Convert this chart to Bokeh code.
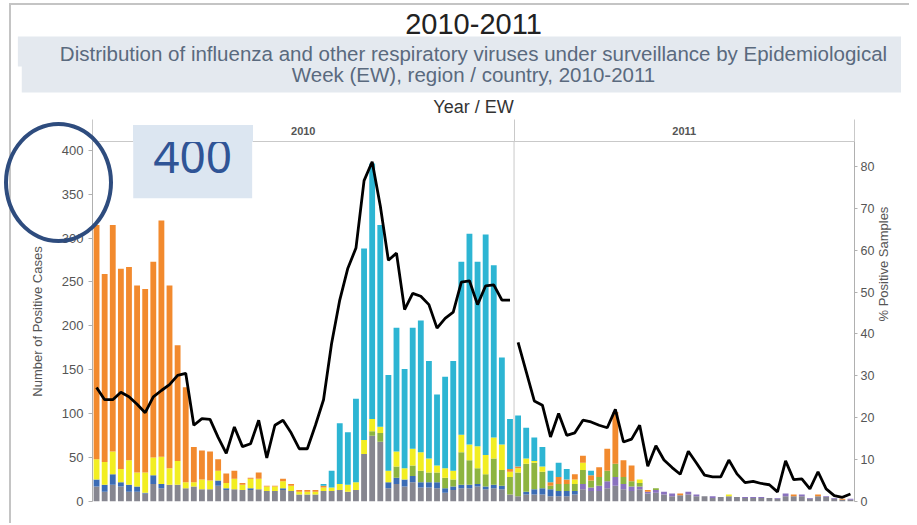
import math
from bokeh.plotting import figure
from bokeh.models import (Range1d, LinearAxis, FixedTicker, Span, Title,
                          Label, ColumnDataSource)
from bokeh.embed import file_html
from bokeh.resources import INLINE

# ---------------- data ----------------
years = ["2010", "2011"]
weeks_per_year = [52, 42]

left_ticks = [0, 50, 100, 150, 200, 250, 300, 350, 400]
right_ticks = [0, 10, 20, 30, 40, 50, 60, 70, 80]

series_names = ["gray", "blue", "purple", "green", "yellow", "orange", "cyan"]
series_colors = ["#868690", "#3b6cb5", "#8a72bf", "#8db440", "#f2ee22", "#f28a2e", "#2db5d3"]

gray = [17, 11, 19, 17, 11, 11, 9, 20, 15, 19, 19, 15,
        17, 14, 14, 18, 13, 14, 13, 13, 14, 12, 12, 13, 12, 8, 8, 8, 12, 12,
        13, 11, 13, 54, 75, 68, 15, 20, 17, 22, 16, 16, 15, 10, 13, 15, 15, 17, 14, 15, 14, 8,
        6, 8, 8, 8, 6, 6, 6, 8, 14, 12, 12, 15, 18, 14, 12, 14,
        9, 10, 8, 6, 7, 8, 6, 6, 4, 5, 6, 5, 4, 4, 4, 4, 3, 6, 6, 6, 3, 6, 5, 3, 2, 2]
blue = [8, 8, 12, 5, 8, 6, 1, 10, 5, 0, 0, 0,
        0, 0, 0, 6, 2, 0, 0, 2, 0, 0, 0, 2, 0, 0, 0, 0, 0, 0,
        0, 0, 0, 0, 0, 0, 7, 7, 8, 7, 6, 6, 7, 5, 4, 4, 4, 3, 3, 4, 4, 0,
        0, 3, 6, 7, 8, 6, 6, 4, 0, 0, 0, 0, 0, 0, 0, 0,
        0, 0, 0, 0, 0, 0, 0, 0, 0, 0, 0, 0, 0, 0, 0, 0, 0, 0, 0, 0, 0, 0, 0, 0, 0, 0]
purple = [0, 0, 0, 0, 0, 0, 0, 0, 0, 0, 0, 0,
          0, 0, 0, 0, 0, 0, 0, 0, 0, 0, 0, 0, 0, 0, 0, 0, 0, 0,
          0, 0, 0, 0, 0, 0, 0, 0, 0, 0, 0, 0, 0, 0, 0, 0, 0, 0, 0, 0, 0, 0,
          0, 0, 0, 0, 0, 0, 0, 0, 6, 4, 6, 8, 10, 6, 5, 3,
          2, 3, 3, 3, 0, 3, 2, 0, 2, 0, 0, 0, 1, 1, 1, 0, 1, 3, 0, 2, 1, 0, 1, 1, 0, 1]
green = [0, 0, 0, 0, 0, 0, 0, 0, 0, 0, 0, 0,
         0, 0, 0, 0, 0, 0, 0, 0, 0, 0, 0, 0, 0, 0, 0, 0, 0, 0,
         0, 0, 0, 0, 5, 10, 0, 13, 0, 12, 13, 11, 11, 12, 8, 37, 28, 18, 14, 30, 18, 20,
         27, 32, 30, 19, 4, 8, 8, 8, 16, 8, 10, 12, 15, 8, 6, 4,
         0, 2, 0, 0, 0, 0, 0, 0, 0, 0, 0, 0, 0, 0, 0, 0, 0, 0, 0, 0, 0, 0, 0, 0, 0, 0]
yellow = [23, 26, 26, 15, 28, 16, 23, 20, 31, 19, 27, 7,
          5, 11, 10, 11, 6, 12, 6, 11, 12, 5, 5, 8, 6, 3, 3, 3, 4, 4,
          7, 8, 9, 16, 14, 7, 13, 17, 13, 19, 21, 16, 8, 11, 10, 20, 18, 25, 22, 24, 29, 6,
          5, 6, 2, 6, 0, 0, 0, 5, 8, 0, 0, 0, 0, 0, 0, 4,
          0, 0, 0, 0, 0, 0, 0, 0, 0, 0, 2, 0, 0, 0, 0, 0, 0, 0, 0, 0, 0, 0, 0, 0, 0, 0]
orange = [267, 214, 258, 228, 220, 213, 209, 223, 269, 208, 132, 108,
          40, 33, 33, 13, 11, 9, 2, 1, 7, 1, 1, 3, 2, 2, 2, 2, 2, 0,
          0, 0, 0, 0, 0, 0, 0, 0, 0, 0, 0, 0, 0, 0, 0, 0, 0, 0, 0, 0, 0, 3,
          2, 0, 0, 0, 4, 8, 5, 6, 8, 6, 11, 25, 59, 19, 18, 0,
          2, 0, 0, 0, 2, 0, 0, 0, 0, 0, 0, 0, 0, 0, 0, 0, 0, 0, 2, 0, 0, 2, 0, 0, 1, 0]
cyan = [0, 0, 0, 0, 0, 0, 0, 0, 0, 0, 0, 0,
        0, 0, 0, 0, 0, 0, 0, 0, 0, 0, 0, 0, 0, 0, 0, 0, 2, 19,
        69, 60, 95, 218, 291, 230, 109, 141, 113, 138, 150, 111, 81, 104, 125, 197, 240, 210, 251, 196, 99, 57,
        58, 35, 27, 22, 13, 16, 12, 0, 0, 5, 0, 0, 0, 0, 0, 0,
        0, 0, 0, 0, 0, 0, 0, 0, 0, 0, 0, 0, 0, 0, 0, 0, 0, 0, 0, 0, 0, 0, 0, 0, 0, 0]

pct_2010 = [27.2, 24.3, 24.3, 26.1, 25.0, 23.2, 21.2, 25.0, 26.5, 27.9, 30.1, 30.6,
            18.2, 19.8, 19.6, 15.3, 11.5, 17.8, 13.1, 13.8, 19.4, 10.4, 18.2, 19.4,
            16.4, 12.6, 12.6, 18.2, 24.3, 37.8, 48.1, 55.7, 60.5, 76.6, 81.1, 70.6,
            57.6, 59.3, 45.8, 49.7, 49.0, 47.0, 41.4, 43.7, 45.2, 52.4, 52.7, 47.0,
            51.5, 51.7, 48.1, 48.1]
pct_2011 = [38.0, 31.0, 24.0, 23.0, 15.4, 21.0, 15.8, 16.4, 19.4, 19.0, 18.2, 17.6,
            22.0, 14.2, 14.9, 18.2, 8.4, 13.3, 9.9, 8.1, 6.5, 12.0, 9.2, 6.3,
            5.9, 5.9, 9.9, 6.6, 4.5, 4.8, 4.3, 4.0, 2.3, 9.7, 5.2, 5.4,
            3.0, 7.1, 3.0, 1.4, 1.0, 1.8]

title_text = "2010-2011"
subtitle_lines = ["Distribution of influenza and other respiratory viruses under surveillance by Epidemiological",
                  "Week (EW), region / country, 2010-2011"]
header_text = "Year / EW"
highlight_text = "400"

# ---------------- build ----------------
n_weeks = sum(weeks_per_year)
x = [i + 0.5 for i in range(n_weeks)]
src = ColumnDataSource(dict(x=x, gray=gray, blue=blue, purple=purple, green=green,
                            yellow=yellow, orange=orange, cyan=cyan))

FONT = "Liberation Sans"
p = figure(width=901, height=509, output_backend="svg", toolbar_location=None,
           x_range=Range1d(0, n_weeks), y_range=Range1d(0, 410),
           x_axis_location=None, min_border_left=92, min_border_right=41,
           min_border_top=141, min_border_bottom=8)
p.outline_line_color = None
p.xgrid.visible = False
p.ygrid.visible = False

p.vbar_stack(series_names, x="x", width=0.72, color=series_colors,
             line_color=None, source=src)

p.extra_y_ranges = {"pct": Range1d(0, 85.95)}
x10 = [i + 0.5 for i in range(weeks_per_year[0])]
x11 = [weeks_per_year[0] + i + 0.5 for i in range(weeks_per_year[1])]
p.line(x10, pct_2010, y_range_name="pct", line_color="black", line_width=2.8)
p.line(x11, pct_2011, y_range_name="pct", line_color="black", line_width=2.8)

p.add_layout(Span(location=weeks_per_year[0], dimension="height",
                  line_color="#c9c9c9", line_width=1, level="underlay"))


def style_axis(ax, size="13px"):
    ax.axis_line_color = "#b0b0b0"
    ax.major_tick_line_color = "#b0b0b0"
    ax.major_tick_out = 4
    ax.major_tick_in = 0
    ax.minor_tick_line_color = None
    ax.major_label_text_font = FONT
    ax.major_label_text_font_size = size
    ax.major_label_text_color = "#555555"
    ax.axis_label_text_font = FONT
    ax.axis_label_text_font_size = "13px"
    ax.axis_label_text_font_style = "normal"
    ax.axis_label_text_color = "#555555"


ly = p.yaxis[0]
ly.ticker = FixedTicker(ticks=left_ticks)
ly.axis_label = "Number of Positive Cases"
style_axis(ly)
ly.major_label_standoff = 5
ly.axis_label_standoff = 14

ry = LinearAxis(y_range_name="pct", ticker=FixedTicker(ticks=right_ticks),
                axis_label="% Positive Samples")
style_axis(ry, "12.5px")
ry.major_tick_out = 3
ry.major_label_standoff = 3
ry.axis_label_standoff = 6
if "axis_label_orientation" in LinearAxis.properties():
    try:
        ry.axis_label_orientation = math.pi / 2
    except Exception:
        pass
p.add_layout(ry, "right")

# year header axis
centers = [weeks_per_year[0] / 2, weeks_per_year[0] + weeks_per_year[1] / 2]
bounds = [0, weeks_per_year[0], n_weeks]
yr = LinearAxis(ticker=FixedTicker(ticks=centers, minor_ticks=bounds),
                major_label_overrides={c: y for c, y in zip(centers, years)})
yr.axis_line_color = "#c9c9c9"
yr.major_tick_line_color = None
yr.minor_tick_line_color = "#c9c9c9"
yr.minor_tick_in = 0
yr.major_label_text_font = FONT
yr.major_label_text_font_size = "11px"
yr.major_label_text_font_style = "bold"
yr.major_label_text_color = "#555555"
try:
    yr.minor_tick_out = 22
    yr.major_label_standoff = -15
except Exception:
    yr.minor_tick_out = 0
    yr.major_label_standoff = 6
p.add_layout(yr, "above")


def set_padding(model, left, right, top, bottom):
    if "padding" not in type(model).properties():
        return
    for val in (dict(left=left, right=right, top=top, bottom=bottom),
                (left, right, top, bottom), max(top, 0)):
        try:
            model.padding = val
            return
        except Exception:
            continue


def set_standoff(model, value):
    try:
        model.standoff = value
    except Exception:
        model.standoff = 0


p.add_layout(Title(text=header_text, align="center", text_font=FONT,
                   text_font_size="18px", text_font_style="normal",
                   text_color="#333333", standoff=13), "above")

# subtitle band: two centred lines on a shared background
sub_pads = [42, 270]           # horizontal padding so both boxes span the band
sub_vpads = [(5, 2), (0, 7)]   # (top, bottom)
sub_standoffs = [-4, -8]
for line, pad, vp, so in reversed(list(zip(subtitle_lines, sub_pads, sub_vpads, sub_standoffs))):
    t = Title(text=line, align="center", text_font=FONT, text_font_size="20.5px",
              text_font_style="normal", text_color="#5a6a7e",
              background_fill_color="#e4e9ef")
    set_standoff(t, so)
    set_padding(t, pad, pad, vp[0], vp[1])
    p.add_layout(t, "above")

p.add_layout(Title(text=title_text, align="center", text_font=FONT,
                   text_font_size="29px", text_font_style="normal",
                   text_color="#222222", standoff=5), "above")

# ---------------- overlay highlight (presentation marks) ----------------
box = Label(x=12.36, y=383, text=highlight_text, text_align="center",
            text_baseline="middle", text_font="Noto Sans", text_font_size="46px",
            text_color="#2f5496", background_fill_color="#dce6f1")
set_padding(box, 20, 20, 8, 25)
p.add_layout(box)

# ring round the 350-400 ticks, widget frame lines, and the part of the
# highlight box that lies above the plot frame
p.stylesheets = [
    ":host { position: relative; }"
    ":host::after { content: ''; position: absolute; left: 4px; top: 122px;"
    " width: 109px; height: 121px; box-sizing: border-box;"
    " border: 4px solid #2e4c7e; border-radius: 50%; pointer-events: none; z-index: 10; }"
    ":host::before { content: ''; position: absolute; left: 9px; top: 3px;"
    " width: 900px; height: 520px; box-sizing: border-box;"
    " border-top: 2px solid #c4c4c4; border-left: 2px solid #c4c4c4;"
    " background: linear-gradient(#dce6f1, #dce6f1) no-repeat;"
    " background-size: 120px 17px; background-position: 122px 120px;"
    " pointer-events: none; z-index: 9; }"
]

open("out.html", "w").write(file_html(p, INLINE))
